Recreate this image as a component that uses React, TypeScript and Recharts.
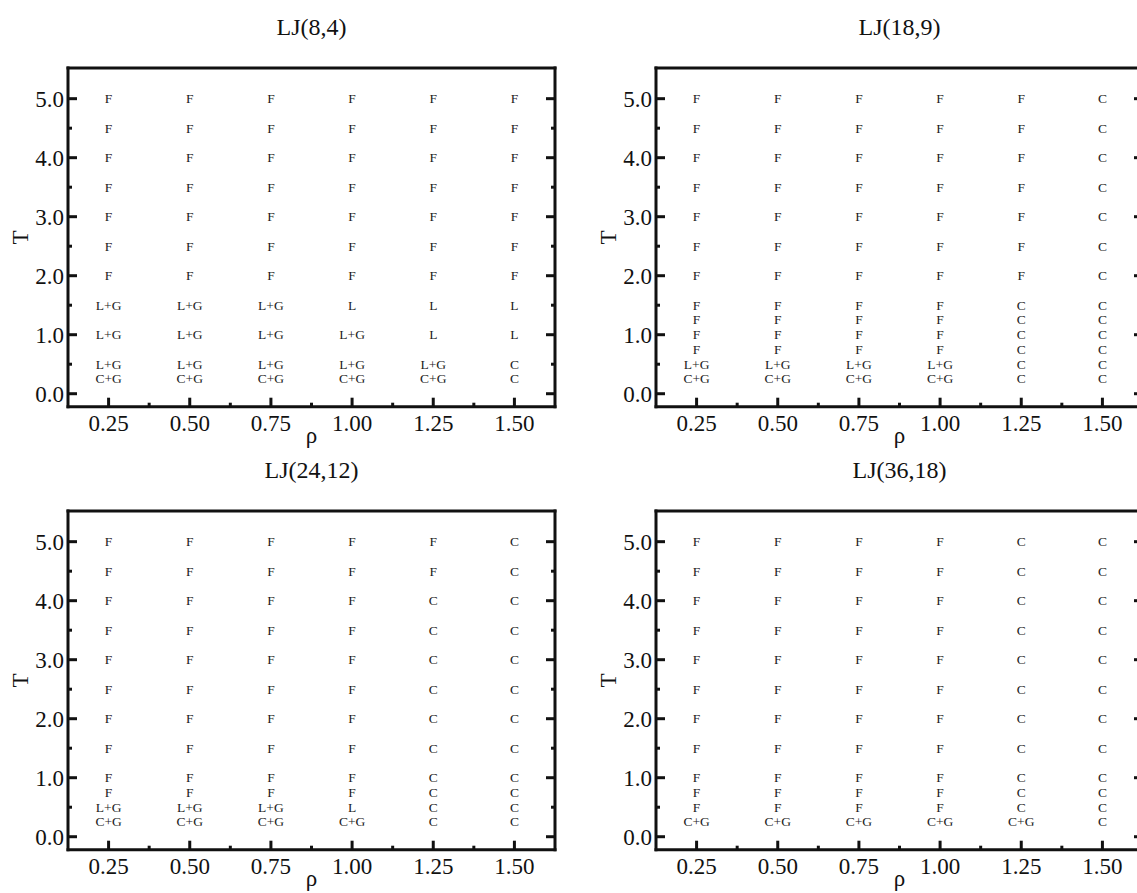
import React from 'react'
import { ScatterChart, Scatter, XAxis, YAxis } from 'recharts'

// density columns and tick labels shared by all four panels
const rho = [0.25, 0.5, 0.75, 1.0, 1.25, 1.5]
const rhoMinor = [0.375, 0.625, 0.875, 1.125, 1.375]
const rhoTickLabels = ['0.25', '0.50', '0.75', '1.00', '1.25', '1.50']
const tMajor = [0, 1, 2, 3, 4, 5]
const tMinor = [0.5, 1.5, 2.5, 3.5, 4.5]
const tTickLabels = ['0.0', '1.0', '2.0', '3.0', '4.0', '5.0']

// LJ(8,4)
const temps84 = [5.0, 4.5, 4.0, 3.5, 3.0, 2.5, 2.0, 1.5, 1.0, 0.5, 0.25]
const phases84 = [
  ['F', 'F', 'F', 'F', 'F', 'F'],
  ['F', 'F', 'F', 'F', 'F', 'F'],
  ['F', 'F', 'F', 'F', 'F', 'F'],
  ['F', 'F', 'F', 'F', 'F', 'F'],
  ['F', 'F', 'F', 'F', 'F', 'F'],
  ['F', 'F', 'F', 'F', 'F', 'F'],
  ['F', 'F', 'F', 'F', 'F', 'F'],
  ['L+G', 'L+G', 'L+G', 'L', 'L', 'L'],
  ['L+G', 'L+G', 'L+G', 'L+G', 'L', 'L'],
  ['L+G', 'L+G', 'L+G', 'L+G', 'L+G', 'C'],
  ['C+G', 'C+G', 'C+G', 'C+G', 'C+G', 'C'],
]

// LJ(18,9)
const temps189 = [5.0, 4.5, 4.0, 3.5, 3.0, 2.5, 2.0, 1.5, 1.25, 1.0, 0.75, 0.5, 0.25]
const phases189 = [
  ['F', 'F', 'F', 'F', 'F', 'C'],
  ['F', 'F', 'F', 'F', 'F', 'C'],
  ['F', 'F', 'F', 'F', 'F', 'C'],
  ['F', 'F', 'F', 'F', 'F', 'C'],
  ['F', 'F', 'F', 'F', 'F', 'C'],
  ['F', 'F', 'F', 'F', 'F', 'C'],
  ['F', 'F', 'F', 'F', 'F', 'C'],
  ['F', 'F', 'F', 'F', 'C', 'C'],
  ['F', 'F', 'F', 'F', 'C', 'C'],
  ['F', 'F', 'F', 'F', 'C', 'C'],
  ['F', 'F', 'F', 'F', 'C', 'C'],
  ['L+G', 'L+G', 'L+G', 'L+G', 'C', 'C'],
  ['C+G', 'C+G', 'C+G', 'C+G', 'C', 'C'],
]

// LJ(24,12)
const temps2412 = [5.0, 4.5, 4.0, 3.5, 3.0, 2.5, 2.0, 1.5, 1.0, 0.75, 0.5, 0.25]
const phases2412 = [
  ['F', 'F', 'F', 'F', 'F', 'C'],
  ['F', 'F', 'F', 'F', 'F', 'C'],
  ['F', 'F', 'F', 'F', 'C', 'C'],
  ['F', 'F', 'F', 'F', 'C', 'C'],
  ['F', 'F', 'F', 'F', 'C', 'C'],
  ['F', 'F', 'F', 'F', 'C', 'C'],
  ['F', 'F', 'F', 'F', 'C', 'C'],
  ['F', 'F', 'F', 'F', 'C', 'C'],
  ['F', 'F', 'F', 'F', 'C', 'C'],
  ['F', 'F', 'F', 'F', 'C', 'C'],
  ['L+G', 'L+G', 'L+G', 'L', 'C', 'C'],
  ['C+G', 'C+G', 'C+G', 'C+G', 'C', 'C'],
]

// LJ(36,18)
const temps3618 = [5.0, 4.5, 4.0, 3.5, 3.0, 2.5, 2.0, 1.5, 1.0, 0.75, 0.5, 0.25]
const phases3618 = [
  ['F', 'F', 'F', 'F', 'C', 'C'],
  ['F', 'F', 'F', 'F', 'C', 'C'],
  ['F', 'F', 'F', 'F', 'C', 'C'],
  ['F', 'F', 'F', 'F', 'C', 'C'],
  ['F', 'F', 'F', 'F', 'C', 'C'],
  ['F', 'F', 'F', 'F', 'C', 'C'],
  ['F', 'F', 'F', 'F', 'C', 'C'],
  ['F', 'F', 'F', 'F', 'C', 'C'],
  ['F', 'F', 'F', 'F', 'C', 'C'],
  ['F', 'F', 'F', 'F', 'C', 'C'],
  ['F', 'F', 'F', 'F', 'C', 'C'],
  ['C+G', 'C+G', 'C+G', 'C+G', 'C+G', 'C'],
]

const panels = [
  { title: 'LJ(8,4)', temps: temps84, phases: phases84, left: 0, top: 0 },
  { title: 'LJ(18,9)', temps: temps189, phases: phases189, left: 588, top: 0 },
  { title: 'LJ(24,12)', temps: temps2412, phases: phases2412, left: 0, top: 443 },
  { title: 'LJ(36,18)', temps: temps3618, phases: phases3618, left: 588, top: 443 },
]

const FONT = '"Liberation Serif", "DejaVu Serif", serif'
const INK = '#111'
const W = 600
const H = 460
const MAJOR = 9
const MINOR = 4

const toPoints = (temps: number[], phases: string[][]) => {
  const pts: { rho: number; T: number; phase: string }[] = []
  temps.forEach((t, i) => {
    rho.forEach((r, j) => {
      pts.push({ rho: r, T: t, phase: phases[i][j] })
    })
  })
  return pts
}

const isMajorRho = (v: number) => rho.includes(v)
const isMajorT = (v: number) => tMajor.includes(v)

const BottomTick = (props: any) => {
  const { x, y, payload } = props
  const major = isMajorRho(payload.value)
  const idx = rho.indexOf(payload.value)
  return (
    <g>
      <line x1={x} y1={y} x2={x} y2={y - (major ? MAJOR : MINOR)} stroke={INK} strokeWidth={3} />
      {major && (
        <text x={x} y={y + 24} textAnchor="middle" fontSize={23} fontFamily={FONT} fill={INK}>
          {rhoTickLabels[idx]}
        </text>
      )}
    </g>
  )
}

const TopTick = (props: any) => {
  const { x, y, payload } = props
  const major = isMajorRho(payload.value)
  return <line x1={x} y1={y} x2={x} y2={y + (major ? MAJOR : MINOR)} stroke={INK} strokeWidth={3} />
}

const LeftTick = (props: any) => {
  const { x, y, payload } = props
  const major = isMajorT(payload.value)
  const idx = tMajor.indexOf(payload.value)
  return (
    <g>
      <line x1={x} y1={y} x2={x + (major ? MAJOR : MINOR)} y2={y} stroke={INK} strokeWidth={3} />
      {major && (
        <text x={x - 4} y={y + 8} textAnchor="end" fontSize={23} fontFamily={FONT} fill={INK}>
          {tTickLabels[idx]}
        </text>
      )}
    </g>
  )
}

const RightTick = (props: any) => {
  const { x, y, payload } = props
  const major = isMajorT(payload.value)
  return <line x1={x} y1={y} x2={x - (major ? MAJOR : MINOR)} y2={y} stroke={INK} strokeWidth={3} />
}

const RhoLabel = (props: any) => {
  const vb = props.viewBox
  return (
    <text x={vb.x + vb.width / 2} y={vb.y + 36} textAnchor="middle" fontSize={23} fontFamily={FONT} fill={INK}>
      ρ
    </text>
  )
}

const TLabel = (props: any) => {
  const vb = props.viewBox
  const cx = 21
  const cy = vb.y + vb.height / 2
  return (
    <text x={cx} y={cy} transform={`rotate(-90 ${cx} ${cy})`} textAnchor="middle" dominantBaseline="central"
      fontSize={23} fontFamily={FONT} fill={INK}>
      T
    </text>
  )
}

const PhaseText = (props: any) => {
  const { cx, cy, payload } = props
  return (
    <text x={cx} y={cy} dy={4.5} textAnchor="middle" fontSize={13.5} fontFamily={FONT} fill="#1c1c1c">
      {payload.phase}
    </text>
  )
}

const axisLine = { stroke: INK, strokeWidth: 3, strokeLinecap: 'square' as const }
const rhoTicks = [...rho, ...rhoMinor].sort((a, b) => a - b)
const tTicks = [...tMajor, ...tMinor].sort((a, b) => a - b)

const Panel = ({ title, temps, phases, left, top }: any) => {
  const data = toPoints(temps, phases)
  return (
    <div style={{ position: 'absolute', left, top, width: W, height: H }}>
      <div style={{ position: 'absolute', left: 68, width: 487, top: 13, textAlign: 'center',
        fontFamily: FONT, fontSize: 24, lineHeight: '28px', color: INK }}>
        {title}
      </div>
      <ScatterChart width={W} height={H} margin={{ top: 67, right: 44, bottom: 9.3, left: 0 }}>
        <XAxis type="number" dataKey="rho" domain={[0.125, 1.625]} ticks={rhoTicks} interval={0}
          allowDataOverflow height={44} tickSize={0} tickMargin={0} tickLine={false}
          axisLine={axisLine} tick={<BottomTick />} label={<RhoLabel />} />
        <XAxis xAxisId="top" orientation="top" type="number" domain={[0.125, 1.625]} ticks={rhoTicks}
          interval={0} allowDataOverflow height={1} tickSize={0} tickMargin={0} tickLine={false}
          axisLine={axisLine} tick={<TopTick />} />
        <YAxis type="number" dataKey="T" domain={[-0.22, 5.52]} ticks={tTicks} interval={0}
          allowDataOverflow width={68} tickSize={0} tickMargin={0} tickLine={false}
          axisLine={axisLine} tick={<LeftTick />} label={<TLabel />} />
        <YAxis yAxisId="right" orientation="right" type="number" domain={[-0.22, 5.52]} ticks={tTicks}
          interval={0} allowDataOverflow width={1} tickSize={0} tickMargin={0} tickLine={false}
          axisLine={axisLine} tick={<RightTick />} />
        <Scatter data={data} shape={<PhaseText />} isAnimationActive={false} />
      </ScatterChart>
    </div>
  )
}

export default function App() {
  return (
    <div style={{ position: 'absolute', left: 0, top: 0, width: 1137, height: 893, overflow: 'hidden',
      background: '#fff' }}>
      {panels.map(p => (
        <Panel key={p.title} {...p} />
      ))}
    </div>
  )
}
